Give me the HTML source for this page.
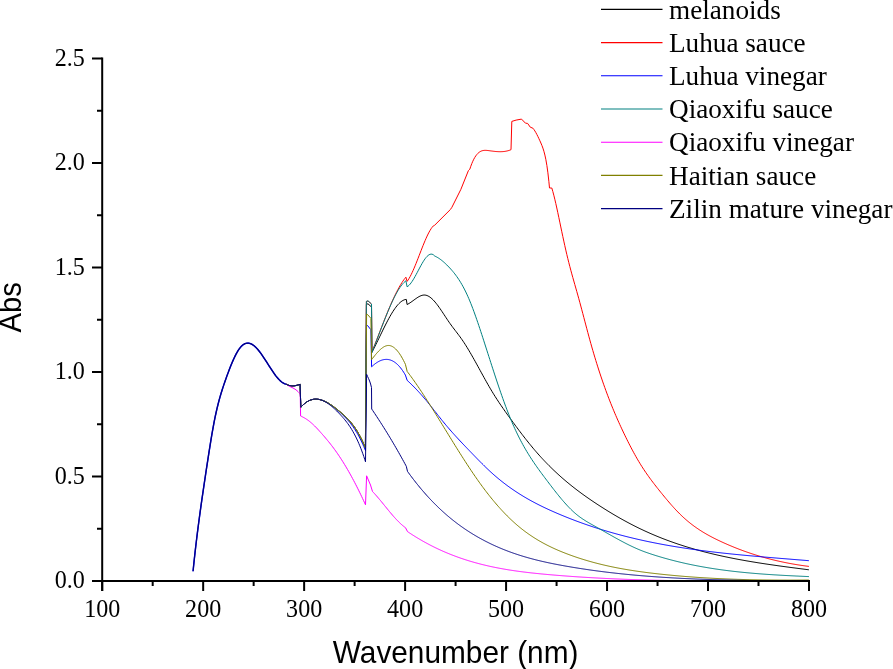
<!DOCTYPE html>
<html><head><meta charset="utf-8"><style>
html,body{margin:0;padding:0;background:#fff;overflow:hidden;}
svg{display:block;will-change:transform;}
.tk{font-family:"Liberation Serif",serif;font-size:26.2px;fill:#000;}
.lg{font-family:"Liberation Serif",serif;font-size:27.2px;fill:#000;}
.ti{font-family:"Liberation Sans",sans-serif;font-size:29.8px;fill:#000;}
</style></head><body>
<svg width="893" height="669" viewBox="0 0 893 669">
<rect width="893" height="669" fill="#fff"/>
<path d="M193.05,571.20 L194.05,561.55 L195.05,552.44 L196.05,543.79 L197.05,535.54 L198.05,527.64 L199.05,520.02 L200.05,512.64 L201.05,505.45 L202.05,498.42 L203.05,491.54 L204.05,484.77 L205.05,478.09 L206.05,471.46 L207.05,464.86 L208.05,458.32 L209.05,451.87 L210.05,445.55 L211.05,439.41 L212.05,433.49 L213.05,427.82 L214.05,422.46 L215.05,417.43 L216.05,412.75 L217.05,408.38 L218.05,404.29 L219.05,400.45 L220.05,396.85 L221.05,393.44 L222.05,390.20 L223.05,387.11 L224.05,384.13 L225.05,381.24 L226.05,378.40 L227.05,375.62 L228.05,372.89 L229.05,370.22 L230.05,367.63 L231.05,365.13 L232.05,362.71 L233.05,360.40 L234.05,358.20 L235.05,356.12 L236.05,354.16 L237.05,352.35 L238.05,350.68 L239.05,349.16 L240.05,347.81 L241.05,346.63 L242.05,345.64 L243.05,344.81 L244.05,344.16 L245.05,343.67 L246.05,343.34 L247.05,343.16 L248.05,343.13 L249.05,343.24 L250.05,343.49 L251.05,343.88 L252.05,344.39 L253.05,345.02 L254.05,345.76 L255.05,346.62 L256.05,347.58 L257.05,348.64 L258.05,349.78 L259.05,351.01 L260.05,352.31 L261.05,353.67 L262.05,355.09 L263.05,356.55 L264.05,358.05 L265.05,359.59 L266.05,361.14 L267.05,362.71 L268.05,364.28 L269.05,365.86 L270.05,367.42 L271.05,368.96 L272.05,370.47 L273.05,371.95 L274.05,373.38 L275.05,374.76 L276.05,376.08 L277.05,377.33 L278.05,378.51 L279.05,379.59 L280.05,380.59 L281.05,381.48 L282.05,382.26 L283.05,382.92 L284.05,383.46 L285.05,383.85 L286.00,384.10" fill="none" stroke="#0000FF" stroke-width="1.45" stroke-linejoin="round"/>
<path d="M193.05,571.20 L194.05,561.55 L195.05,552.44 L196.05,543.79 L197.05,535.54 L198.05,527.64 L199.05,520.02 L200.05,512.64 L201.05,505.45 L202.05,498.42 L203.05,491.54 L204.05,484.77 L205.05,478.09 L206.05,471.46 L207.05,464.86 L208.05,458.32 L209.05,451.87 L210.05,445.55 L211.05,439.41 L212.05,433.49 L213.05,427.82 L214.05,422.46 L215.05,417.43 L216.05,412.75 L217.05,408.38 L218.05,404.29 L219.05,400.45 L220.05,396.85 L221.05,393.44 L222.05,390.20 L223.05,387.11 L224.05,384.13 L225.05,381.24 L226.05,378.40 L227.05,375.62 L228.05,372.89 L229.05,370.22 L230.05,367.63 L231.05,365.13 L232.05,362.71 L233.05,360.40 L234.05,358.20 L235.05,356.12 L236.05,354.16 L237.05,352.35 L238.05,350.68 L239.05,349.16 L240.05,347.81 L241.05,346.63 L242.05,345.64 L243.05,344.81 L244.05,344.16 L245.05,343.67 L246.05,343.34 L247.05,343.16 L248.05,343.13 L249.05,343.24 L250.05,343.49 L251.05,343.88 L252.05,344.39 L253.05,345.02 L254.05,345.76 L255.05,346.62 L256.05,347.58 L257.05,348.64 L258.05,349.78 L259.05,351.01 L260.05,352.31 L261.05,353.67 L262.05,355.09 L263.05,356.55 L264.05,358.05 L265.05,359.59 L266.05,361.14 L267.05,362.71 L268.05,364.28 L269.05,365.86 L270.05,367.42 L271.05,368.96 L272.05,370.47 L273.05,371.95 L274.05,373.38 L275.05,374.76 L276.05,376.08 L277.05,377.33 L278.05,378.51 L279.05,379.59 L280.05,380.59 L281.05,381.48 L282.05,382.26 L283.05,382.92 L284.05,383.46 L285.05,383.85 L286.00,384.10" fill="none" stroke="#000080" stroke-width="1.25" stroke-linejoin="round"/>
<path d="M286.00,384.10 L287.00,384.65 L288.00,385.09 L289.00,385.42 L290.00,385.67 L291.00,385.82 L292.00,385.90 L293.00,385.90 L294.00,385.83 L295.00,385.69 L296.00,385.51 L297.00,385.27 L298.00,384.99 L299.00,384.68 L300.00,384.34 L300.10,384.30 L300.80,407.30 L301.80,406.18 L302.80,405.16 L303.80,404.22 L304.80,403.37 L305.80,402.61 L306.80,401.93 L307.80,401.33 L308.80,400.81 L309.80,400.36 L310.80,399.99 L311.80,399.69 L312.80,399.46 L313.80,399.29 L314.80,399.20 L315.80,399.16 L316.80,399.19 L317.80,399.27 L318.80,399.41 L319.80,399.61 L320.80,399.86 L321.80,400.16 L322.80,400.50 L323.80,400.90 L324.80,401.33 L325.80,401.81 L326.80,402.33 L327.80,402.88 L328.80,403.47 L329.80,404.09 L330.80,404.75 L331.80,405.43 L332.80,406.14 L333.80,406.87 L334.80,407.62 L335.80,408.40 L336.80,409.19 L337.80,409.99 L338.80,410.81 L339.80,411.65 L340.80,412.49 L341.80,413.34 L342.80,414.21 L343.80,415.10 L344.80,416.02 L345.80,416.97 L346.80,417.95 L347.80,418.98 L348.80,420.04 L349.80,421.15 L350.80,422.32 L351.80,423.54 L352.80,424.82 L353.80,426.17 L354.80,427.58 L355.80,429.07 L356.80,430.64 L357.80,432.29 L358.80,434.03 L359.80,435.86 L360.80,437.79 L361.80,439.81 L362.80,441.94 L363.80,444.18 L364.80,446.53 L365.40,448.00 L366.40,304.30 L368.00,303.80 L371.50,307.00 L371.90,352.40 L372.90,350.47 L373.90,348.50 L374.90,346.50 L375.90,344.48 L376.90,342.43 L377.90,340.38 L378.90,338.31 L379.90,336.24 L380.90,334.17 L381.90,332.11 L382.90,330.06 L383.90,328.03 L384.90,326.02 L385.90,324.05 L386.90,322.11 L387.90,320.21 L388.90,318.36 L389.90,316.56 L390.90,314.82 L391.90,313.14 L392.90,311.54 L393.90,310.00 L394.90,308.55 L395.90,307.18 L396.90,305.90 L397.90,304.72 L398.90,303.65 L399.90,302.68 L400.90,301.82 L401.90,301.08 L402.90,300.47 L403.90,299.99 L404.90,299.64 L405.90,299.44 L406.30,299.40 L407.10,304.50 L408.10,303.99 L409.10,303.41 L410.10,302.78 L411.10,302.10 L412.10,301.39 L413.10,300.66 L414.10,299.92 L415.10,299.19 L416.10,298.48 L417.10,297.80 L418.10,297.17 L419.10,296.59 L420.10,296.09 L421.10,295.67 L422.10,295.34 L423.10,295.12 L424.10,295.03 L425.10,295.07 L426.10,295.25 L427.10,295.56 L428.10,296.00 L429.10,296.56 L430.10,297.23 L431.10,298.02 L432.10,298.90 L433.10,299.87 L434.10,300.94 L435.10,302.08 L436.10,303.29 L437.10,304.57 L438.10,305.91 L439.10,307.30 L440.10,308.72 L441.10,310.19 L442.10,311.68 L443.10,313.18 L444.10,314.70 L445.10,316.23 L446.10,317.75 L447.10,319.25 L448.10,320.74 L449.10,322.21 L450.10,323.63 L451.10,325.02 L452.10,326.38 L453.10,327.72 L454.10,329.03 L455.10,330.34 L456.10,331.64 L457.10,332.95 L458.10,334.26 L459.10,335.59 L460.10,336.95 L461.10,338.34 L462.10,339.76 L463.10,341.23 L464.10,342.74 L465.10,344.28 L466.10,345.86 L467.10,347.48 L468.10,349.12 L469.10,350.79 L470.10,352.49 L471.10,354.21 L472.10,355.95 L473.10,357.71 L474.10,359.49 L475.10,361.28 L476.10,363.08 L477.10,364.89 L478.10,366.71 L479.10,368.53 L480.10,370.36 L481.10,372.19 L482.10,374.01 L483.10,375.83 L484.10,377.64 L485.10,379.44 L486.10,381.23 L487.10,383.00 L488.10,384.76 L489.10,386.50 L490.10,388.21 L491.10,389.91 L492.10,391.58 L493.10,393.22 L494.10,394.83 L495.10,396.43 L496.10,398.00 L497.10,399.54 L498.10,401.07 L499.10,402.58 L500.10,404.07 L501.10,405.55 L502.10,407.01 L503.10,408.45 L504.10,409.88 L505.10,411.31 L506.10,412.72 L507.10,414.12 L508.10,415.51 L509.10,416.90 L510.10,418.28 L511.10,419.65 L512.10,421.03 L513.10,422.39 L514.10,423.76 L515.10,425.11 L516.10,426.46 L517.10,427.81 L518.10,429.15 L519.10,430.48 L520.10,431.80 L521.10,433.12 L522.10,434.43 L523.10,435.73 L524.10,437.02 L525.10,438.30 L526.10,439.57 L527.10,440.84 L528.10,442.09 L529.10,443.33 L530.10,444.56 L531.10,445.78 L532.10,446.99 L533.10,448.19 L534.10,449.37 L535.10,450.55 L536.10,451.71 L537.10,452.85 L538.10,453.99 L539.10,455.11 L540.10,456.22 L541.10,457.32 L542.10,458.40 L543.10,459.48 L544.10,460.54 L545.10,461.59 L546.10,462.63 L547.10,463.66 L548.10,464.68 L549.10,465.69 L550.10,466.68 L551.10,467.67 L552.10,468.64 L553.10,469.61 L554.10,470.57 L555.10,471.51 L556.10,472.45 L557.10,473.37 L558.10,474.29 L559.10,475.20 L560.10,476.10 L561.10,476.99 L562.10,477.87 L563.10,478.74 L564.10,479.60 L565.10,480.45 L566.10,481.30 L567.10,482.14 L568.10,482.97 L569.10,483.79 L570.10,484.60 L571.10,485.41 L572.10,486.21 L573.10,487.00 L574.10,487.78 L575.10,488.56 L576.10,489.33 L577.10,490.10 L578.10,490.85 L579.10,491.60 L580.10,492.35 L581.10,493.08 L582.10,493.82 L583.10,494.54 L584.10,495.26 L585.10,495.98 L586.10,496.69 L587.10,497.39 L588.10,498.09 L589.10,498.78 L590.10,499.47 L591.10,500.15 L592.10,500.83 L593.10,501.51 L594.10,502.18 L595.10,502.84 L596.10,503.51 L597.10,504.16 L598.10,504.82 L599.10,505.47 L600.10,506.12 L601.10,506.76 L602.10,507.40 L603.10,508.03 L604.10,508.67 L605.10,509.29 L606.10,509.92 L607.10,510.54 L608.10,511.15 L609.10,511.77 L610.10,512.37 L611.10,512.98 L612.10,513.58 L613.10,514.17 L614.10,514.77 L615.10,515.35 L616.10,515.94 L617.10,516.52 L618.10,517.10 L619.10,517.67 L620.10,518.24 L621.10,518.80 L622.10,519.36 L623.10,519.92 L624.10,520.47 L625.10,521.01 L626.10,521.56 L627.10,522.10 L628.10,522.63 L629.10,523.16 L630.10,523.69 L631.10,524.21 L632.10,524.73 L633.10,525.24 L634.10,525.75 L635.10,526.26 L636.10,526.76 L637.10,527.26 L638.10,527.75 L639.10,528.24 L640.10,528.72 L641.10,529.20 L642.10,529.67 L643.10,530.14 L644.10,530.61 L645.10,531.07 L646.10,531.53 L647.10,531.98 L648.10,532.43 L649.10,532.88 L650.10,533.32 L651.10,533.75 L652.10,534.19 L653.10,534.62 L654.10,535.04 L655.10,535.46 L656.10,535.88 L657.10,536.29 L658.10,536.70 L659.10,537.11 L660.10,537.51 L661.10,537.90 L662.10,538.30 L663.10,538.69 L664.10,539.07 L665.10,539.46 L666.10,539.84 L667.10,540.21 L668.10,540.58 L669.10,540.95 L670.10,541.32 L671.10,541.68 L672.10,542.03 L673.10,542.39 L674.10,542.74 L675.10,543.09 L676.10,543.43 L677.10,543.77 L678.10,544.11 L679.10,544.44 L680.10,544.77 L681.10,545.10 L682.10,545.42 L683.10,545.74 L684.10,546.06 L685.10,546.38 L686.10,546.69 L687.10,547.00 L688.10,547.30 L689.10,547.60 L690.10,547.90 L691.10,548.20 L692.10,548.49 L693.10,548.78 L694.10,549.07 L695.10,549.36 L696.10,549.64 L697.10,549.92 L698.10,550.19 L699.10,550.47 L700.10,550.74 L701.10,551.01 L702.10,551.27 L703.10,551.54 L704.10,551.80 L705.10,552.05 L706.10,552.31 L707.10,552.56 L708.10,552.81 L709.10,553.06 L710.10,553.31 L711.10,553.55 L712.10,553.79 L713.10,554.03 L714.10,554.27 L715.10,554.50 L716.10,554.73 L717.10,554.96 L718.10,555.19 L719.10,555.41 L720.10,555.64 L721.10,555.86 L722.10,556.08 L723.10,556.29 L724.10,556.51 L725.10,556.72 L726.10,556.93 L727.10,557.14 L728.10,557.35 L729.10,557.55 L730.10,557.76 L731.10,557.96 L732.10,558.16 L733.10,558.35 L734.10,558.55 L735.10,558.74 L736.10,558.94 L737.10,559.13 L738.10,559.32 L739.10,559.50 L740.10,559.69 L741.10,559.87 L742.10,560.05 L743.10,560.23 L744.10,560.41 L745.10,560.59 L746.10,560.77 L747.10,560.94 L748.10,561.11 L749.10,561.29 L750.10,561.46 L751.10,561.63 L752.10,561.79 L753.10,561.96 L754.10,562.12 L755.10,562.29 L756.10,562.45 L757.10,562.61 L758.10,562.77 L759.10,562.93 L760.10,563.09 L761.10,563.24 L762.10,563.40 L763.10,563.55 L764.10,563.70 L765.10,563.85 L766.10,564.01 L767.10,564.15 L768.10,564.30 L769.10,564.45 L770.10,564.60 L771.10,564.74 L772.10,564.89 L773.10,565.03 L774.10,565.18 L775.10,565.32 L776.10,565.46 L777.10,565.60 L778.10,565.74 L779.10,565.88 L780.10,566.02 L781.10,566.16 L782.10,566.29 L783.10,566.43 L784.10,566.56 L785.10,566.70 L786.10,566.83 L787.10,566.97 L788.10,567.10 L789.10,567.24 L790.10,567.37 L791.10,567.50 L792.10,567.63 L793.10,567.76 L794.10,567.89 L795.10,568.02 L796.10,568.15 L797.10,568.28 L798.10,568.41 L799.10,568.54 L800.10,568.67 L801.10,568.80 L802.10,568.93 L803.10,569.06 L804.10,569.19 L805.10,569.31 L806.10,569.44 L807.10,569.57 L808.10,569.70 L808.90,569.80" fill="none" stroke="#000000" stroke-width="1.0" stroke-linejoin="round"/>
<path d="M286.00,384.10 L287.00,384.65 L288.00,385.09 L289.00,385.42 L290.00,385.67 L291.00,385.82 L292.00,385.90 L293.00,385.90 L294.00,385.83 L295.00,385.69 L296.00,385.51 L297.00,385.27 L298.00,384.99 L299.00,384.68 L300.00,384.34 L300.10,384.30 L300.80,407.30 L301.80,406.18 L302.80,405.16 L303.80,404.22 L304.80,403.37 L305.80,402.61 L306.80,401.93 L307.80,401.33 L308.80,400.81 L309.80,400.36 L310.80,399.99 L311.80,399.69 L312.80,399.46 L313.80,399.29 L314.80,399.20 L315.80,399.16 L316.80,399.19 L317.80,399.27 L318.80,399.41 L319.80,399.61 L320.80,399.86 L321.80,400.16 L322.80,400.50 L323.80,400.90 L324.80,401.33 L325.80,401.81 L326.80,402.33 L327.80,402.88 L328.80,403.47 L329.80,404.09 L330.80,404.75 L331.80,405.43 L332.80,406.14 L333.80,406.87 L334.80,407.62 L335.80,408.40 L336.80,409.19 L337.80,409.99 L338.80,410.81 L339.80,411.65 L340.80,412.49 L341.80,413.34 L342.80,414.21 L343.80,415.10 L344.80,416.02 L345.80,416.97 L346.80,417.95 L347.80,418.98 L348.80,420.04 L349.80,421.15 L350.80,422.32 L351.80,423.54 L352.80,424.82 L353.80,426.17 L354.80,427.58 L355.80,429.07 L356.80,430.64 L357.80,432.29 L358.80,434.03 L359.80,435.86 L360.80,437.79 L361.80,439.81 L362.80,441.94 L363.80,444.18 L364.80,446.53 L365.40,448.00 L366.40,301.50 L368.00,301.00 L371.50,304.00 L371.90,352.00 L372.90,349.49 L373.90,346.95 L374.90,344.40 L375.90,341.84 L376.90,339.26 L377.90,336.68 L378.90,334.09 L379.90,331.50 L380.90,328.92 L381.90,326.35 L382.90,323.80 L383.90,321.25 L384.90,318.73 L385.90,316.23 L386.90,313.76 L387.90,311.32 L388.90,308.92 L389.90,306.56 L390.90,304.24 L391.90,301.96 L392.90,299.74 L393.90,297.57 L394.90,295.46 L395.90,293.41 L396.90,291.43 L397.90,289.52 L398.90,287.68 L399.90,285.92 L400.90,284.24 L401.90,282.65 L402.90,281.14 L403.90,279.73 L404.90,278.41 L405.90,277.20 L407.10,281.40 L408.10,279.99 L409.10,278.40 L410.10,276.63 L411.10,274.70 L412.10,272.64 L413.10,270.45 L414.10,268.16 L415.10,265.78 L416.10,263.32 L417.10,260.81 L418.10,258.25 L419.10,255.67 L420.10,253.08 L421.10,250.50 L422.10,247.94 L423.10,245.42 L424.10,242.97 L425.10,240.58 L426.10,238.28 L427.10,236.09 L428.10,234.03 L429.10,232.10 L430.10,230.33 L431.10,228.73 L432.10,227.32 L433.10,226.11 L433.20,226.00 L434.70,225.20 L450.40,209.50 L451.90,207.30 L460.90,189.30 L468.40,170.60 L469.80,169.20 L470.80,166.24 L471.80,163.60 L472.80,161.26 L473.80,159.20 L474.80,157.40 L475.80,155.86 L476.80,154.55 L477.80,153.45 L478.80,152.55 L479.80,151.83 L480.80,151.27 L481.80,150.86 L482.80,150.58 L483.80,150.41 L484.80,150.33 L485.80,150.33 L486.80,150.40 L487.80,150.50 L488.80,150.63 L489.80,150.77 L490.80,150.91 L491.80,151.04 L492.80,151.17 L493.80,151.29 L494.80,151.40 L495.80,151.50 L496.80,151.58 L497.80,151.64 L498.80,151.69 L499.80,151.71 L500.80,151.71 L501.80,151.67 L502.80,151.61 L503.80,151.52 L504.80,151.40 L505.80,151.23 L506.80,151.03 L507.80,150.79 L508.80,150.50 L509.80,150.16 L510.80,149.78 L511.00,149.70 L511.80,121.40 L516.10,120.10 L521.50,119.10 L525.50,123.20 L527.60,123.40 L530.30,127.20 L532.90,128.20 L533.90,129.47 L534.90,130.97 L535.90,132.66 L536.90,134.52 L537.90,136.51 L538.90,138.62 L539.90,140.79 L540.90,143.03 L541.90,145.41 L542.90,148.09 L543.90,151.26 L544.90,155.07 L545.90,159.76 L546.90,165.58 L547.90,172.82 L548.90,181.73 L549.50,188.00 L551.80,188.00 L552.80,191.43 L553.80,195.19 L554.80,199.24 L555.80,203.52 L556.80,208.01 L557.80,212.64 L558.80,217.38 L559.80,222.17 L560.80,226.98 L561.80,231.76 L562.80,236.48 L563.80,241.12 L564.80,245.67 L565.80,250.11 L566.80,254.41 L567.80,258.57 L568.80,262.57 L569.80,266.45 L570.80,270.21 L571.80,273.88 L572.80,277.48 L573.80,281.03 L574.80,284.54 L575.80,288.05 L576.80,291.56 L577.80,295.10 L578.80,298.69 L579.80,302.35 L580.80,306.05 L581.80,309.80 L582.80,313.57 L583.80,317.36 L584.80,321.16 L585.80,324.95 L586.80,328.73 L587.80,332.48 L588.80,336.18 L589.80,339.84 L590.80,343.43 L591.80,346.96 L592.80,350.43 L593.80,353.84 L594.80,357.19 L595.80,360.48 L596.80,363.71 L597.80,366.88 L598.80,370.00 L599.80,373.07 L600.80,376.08 L601.80,379.03 L602.80,381.94 L603.80,384.80 L604.80,387.60 L605.80,390.36 L606.80,393.07 L607.80,395.74 L608.80,398.36 L609.80,400.93 L610.80,403.46 L611.80,405.95 L612.80,408.40 L613.80,410.81 L614.80,413.19 L615.80,415.53 L616.80,417.83 L617.80,420.10 L618.80,422.34 L619.80,424.54 L620.80,426.72 L621.80,428.87 L622.80,431.00 L623.80,433.10 L624.80,435.17 L625.80,437.23 L626.80,439.26 L627.80,441.27 L628.80,443.25 L629.80,445.21 L630.80,447.14 L631.80,449.05 L632.80,450.92 L633.80,452.77 L634.80,454.59 L635.80,456.38 L636.80,458.13 L637.80,459.86 L638.80,461.55 L639.80,463.20 L640.80,464.83 L641.80,466.42 L642.80,467.98 L643.80,469.51 L644.80,471.01 L645.80,472.48 L646.80,473.93 L647.80,475.35 L648.80,476.76 L649.80,478.14 L650.80,479.50 L651.80,480.84 L652.80,482.17 L653.80,483.48 L654.80,484.77 L655.80,486.06 L656.80,487.33 L657.80,488.59 L658.80,489.84 L659.80,491.09 L660.80,492.33 L661.80,493.57 L662.80,494.79 L663.80,496.02 L664.80,497.23 L665.80,498.43 L666.80,499.63 L667.80,500.81 L668.80,501.99 L669.80,503.15 L670.80,504.30 L671.80,505.43 L672.80,506.55 L673.80,507.66 L674.80,508.75 L675.80,509.83 L676.80,510.88 L677.80,511.92 L678.80,512.94 L679.80,513.94 L680.80,514.92 L681.80,515.88 L682.80,516.82 L683.80,517.74 L684.80,518.64 L685.80,519.52 L686.80,520.38 L687.80,521.22 L688.80,522.05 L689.80,522.86 L690.80,523.65 L691.80,524.43 L692.80,525.19 L693.80,525.93 L694.80,526.66 L695.80,527.37 L696.80,528.07 L697.80,528.75 L698.80,529.42 L699.80,530.08 L700.80,530.72 L701.80,531.35 L702.80,531.97 L703.80,532.58 L704.80,533.17 L705.80,533.76 L706.80,534.33 L707.80,534.89 L708.80,535.45 L709.80,535.99 L710.80,536.53 L711.80,537.05 L712.80,537.57 L713.80,538.08 L714.80,538.59 L715.80,539.08 L716.80,539.57 L717.80,540.06 L718.80,540.53 L719.80,541.01 L720.80,541.47 L721.80,541.94 L722.80,542.40 L723.80,542.85 L724.80,543.30 L725.80,543.74 L726.80,544.18 L727.80,544.62 L728.80,545.05 L729.80,545.47 L730.80,545.89 L731.80,546.31 L732.80,546.72 L733.80,547.13 L734.80,547.54 L735.80,547.93 L736.80,548.33 L737.80,548.72 L738.80,549.11 L739.80,549.49 L740.80,549.87 L741.80,550.24 L742.80,550.61 L743.80,550.97 L744.80,551.33 L745.80,551.69 L746.80,552.04 L747.80,552.39 L748.80,552.73 L749.80,553.07 L750.80,553.41 L751.80,553.74 L752.80,554.06 L753.80,554.39 L754.80,554.71 L755.80,555.02 L756.80,555.33 L757.80,555.64 L758.80,555.94 L759.80,556.24 L760.80,556.53 L761.80,556.82 L762.80,557.11 L763.80,557.39 L764.80,557.67 L765.80,557.95 L766.80,558.22 L767.80,558.49 L768.80,558.75 L769.80,559.01 L770.80,559.27 L771.80,559.52 L772.80,559.77 L773.80,560.01 L774.80,560.25 L775.80,560.49 L776.80,560.73 L777.80,560.96 L778.80,561.18 L779.80,561.41 L780.80,561.63 L781.80,561.84 L782.80,562.05 L783.80,562.26 L784.80,562.47 L785.80,562.67 L786.80,562.87 L787.80,563.06 L788.80,563.25 L789.80,563.44 L790.80,563.63 L791.80,563.81 L792.80,563.99 L793.80,564.16 L794.80,564.33 L795.80,564.50 L796.80,564.66 L797.80,564.83 L798.80,564.98 L799.80,565.14 L800.80,565.29 L801.80,565.44 L802.80,565.58 L803.80,565.72 L804.80,565.86 L805.80,566.00 L806.80,566.13 L807.80,566.26 L808.80,566.39 L808.90,566.40" fill="none" stroke="#FF0000" stroke-width="1.0" stroke-linejoin="round"/>
<path d="M286.00,384.10 L287.00,384.65 L288.00,385.09 L289.00,385.42 L290.00,385.67 L291.00,385.82 L292.00,385.90 L293.00,385.90 L294.00,385.83 L295.00,385.69 L296.00,385.51 L297.00,385.27 L298.00,384.99 L299.00,384.68 L300.00,384.34 L300.10,384.30 L300.80,407.30 L301.80,406.19 L302.80,405.17 L303.80,404.24 L304.80,403.40 L305.80,402.63 L306.80,401.95 L307.80,401.35 L308.80,400.82 L309.80,400.37 L310.80,400.00 L311.80,399.69 L312.80,399.46 L313.80,399.29 L314.80,399.19 L315.80,399.15 L316.80,399.17 L317.80,399.25 L318.80,399.39 L319.80,399.59 L320.80,399.84 L321.80,400.14 L322.80,400.49 L323.80,400.89 L324.80,401.33 L325.80,401.82 L326.80,402.35 L327.80,402.92 L328.80,403.53 L329.80,404.17 L330.80,404.85 L331.80,405.56 L332.80,406.31 L333.80,407.08 L334.80,407.87 L335.80,408.69 L336.80,409.53 L337.80,410.40 L338.80,411.28 L339.80,412.18 L340.80,413.09 L341.80,414.02 L342.80,414.97 L343.80,415.95 L344.80,416.96 L345.80,418.00 L346.80,419.07 L347.80,420.19 L348.80,421.35 L349.80,422.56 L350.80,423.82 L351.80,425.13 L352.80,426.51 L353.80,427.94 L354.80,429.45 L355.80,431.02 L356.80,432.67 L357.80,434.39 L358.80,436.20 L359.80,438.09 L360.80,440.08 L361.80,442.15 L362.80,444.32 L363.80,446.60 L364.80,448.97 L365.50,450.70 L366.50,325.00 L367.50,325.50 L370.90,329.70 L371.60,366.80 L372.60,365.88 L373.60,365.01 L374.60,364.20 L375.60,363.44 L376.60,362.75 L377.60,362.11 L378.60,361.54 L379.60,361.03 L380.60,360.59 L381.60,360.21 L382.60,359.90 L383.60,359.67 L384.60,359.50 L385.60,359.41 L386.60,359.39 L387.60,359.45 L388.60,359.59 L389.60,359.81 L390.60,360.10 L391.60,360.49 L392.60,360.95 L393.60,361.51 L394.60,362.15 L395.60,362.88 L396.60,363.70 L397.60,364.61 L398.60,365.62 L399.60,366.73 L400.60,367.93 L401.60,369.23 L402.60,370.63 L403.60,372.13 L404.60,373.74 L405.40,375.10 L407.20,380.40 L408.20,381.32 L409.20,382.25 L410.20,383.20 L411.20,384.17 L412.20,385.14 L413.20,386.13 L414.20,387.14 L415.20,388.16 L416.20,389.20 L417.20,390.25 L418.20,391.32 L419.20,392.40 L420.20,393.50 L421.20,394.61 L422.20,395.74 L423.20,396.88 L424.20,398.05 L425.20,399.22 L426.20,400.42 L427.20,401.63 L428.20,402.85 L429.20,404.09 L430.20,405.34 L431.20,406.59 L432.20,407.86 L433.20,409.13 L434.20,410.40 L435.20,411.68 L436.20,412.95 L437.20,414.23 L438.20,415.50 L439.20,416.77 L440.20,418.03 L441.20,419.28 L442.20,420.52 L443.20,421.75 L444.20,422.97 L445.20,424.18 L446.20,425.37 L447.20,426.55 L448.20,427.72 L449.20,428.88 L450.20,430.02 L451.20,431.16 L452.20,432.29 L453.20,433.41 L454.20,434.52 L455.20,435.62 L456.20,436.72 L457.20,437.81 L458.20,438.89 L459.20,439.96 L460.20,441.03 L461.20,442.09 L462.20,443.15 L463.20,444.21 L464.20,445.26 L465.20,446.30 L466.20,447.35 L467.20,448.39 L468.20,449.43 L469.20,450.46 L470.20,451.50 L471.20,452.53 L472.20,453.57 L473.20,454.60 L474.20,455.64 L475.20,456.67 L476.20,457.70 L477.20,458.72 L478.20,459.75 L479.20,460.76 L480.20,461.78 L481.20,462.78 L482.20,463.79 L483.20,464.78 L484.20,465.77 L485.20,466.74 L486.20,467.71 L487.20,468.67 L488.20,469.62 L489.20,470.56 L490.20,471.49 L491.20,472.40 L492.20,473.30 L493.20,474.20 L494.20,475.08 L495.20,475.95 L496.20,476.80 L497.20,477.65 L498.20,478.49 L499.20,479.31 L500.20,480.12 L501.20,480.93 L502.20,481.72 L503.20,482.51 L504.20,483.28 L505.20,484.04 L506.20,484.79 L507.20,485.54 L508.20,486.27 L509.20,487.00 L510.20,487.71 L511.20,488.42 L512.20,489.12 L513.20,489.80 L514.20,490.48 L515.20,491.15 L516.20,491.82 L517.20,492.47 L518.20,493.12 L519.20,493.75 L520.20,494.38 L521.20,495.01 L522.20,495.62 L523.20,496.23 L524.20,496.83 L525.20,497.42 L526.20,498.00 L527.20,498.58 L528.20,499.15 L529.20,499.72 L530.20,500.27 L531.20,500.83 L532.20,501.37 L533.20,501.91 L534.20,502.44 L535.20,502.97 L536.20,503.49 L537.20,504.01 L538.20,504.52 L539.20,505.02 L540.20,505.52 L541.20,506.01 L542.20,506.50 L543.20,506.99 L544.20,507.47 L545.20,507.94 L546.20,508.41 L547.20,508.88 L548.20,509.34 L549.20,509.80 L550.20,510.25 L551.20,510.70 L552.20,511.15 L553.20,511.59 L554.20,512.03 L555.20,512.47 L556.20,512.90 L557.20,513.33 L558.20,513.76 L559.20,514.18 L560.20,514.60 L561.20,515.02 L562.20,515.44 L563.20,515.85 L564.20,516.26 L565.20,516.67 L566.20,517.07 L567.20,517.47 L568.20,517.87 L569.20,518.26 L570.20,518.66 L571.20,519.05 L572.20,519.43 L573.20,519.82 L574.20,520.20 L575.20,520.58 L576.20,520.95 L577.20,521.33 L578.20,521.70 L579.20,522.06 L580.20,522.43 L581.20,522.79 L582.20,523.15 L583.20,523.51 L584.20,523.86 L585.20,524.21 L586.20,524.56 L587.20,524.91 L588.20,525.25 L589.20,525.59 L590.20,525.93 L591.20,526.26 L592.20,526.60 L593.20,526.93 L594.20,527.26 L595.20,527.58 L596.20,527.91 L597.20,528.23 L598.20,528.54 L599.20,528.86 L600.20,529.17 L601.20,529.48 L602.20,529.79 L603.20,530.10 L604.20,530.40 L605.20,530.70 L606.20,531.00 L607.20,531.30 L608.20,531.59 L609.20,531.89 L610.20,532.17 L611.20,532.46 L612.20,532.75 L613.20,533.03 L614.20,533.31 L615.20,533.59 L616.20,533.86 L617.20,534.14 L618.20,534.41 L619.20,534.68 L620.20,534.94 L621.20,535.21 L622.20,535.47 L623.20,535.73 L624.20,535.99 L625.20,536.25 L626.20,536.50 L627.20,536.75 L628.20,537.00 L629.20,537.25 L630.20,537.50 L631.20,537.74 L632.20,537.98 L633.20,538.22 L634.20,538.46 L635.20,538.69 L636.20,538.93 L637.20,539.16 L638.20,539.39 L639.20,539.62 L640.20,539.84 L641.20,540.07 L642.20,540.29 L643.20,540.51 L644.20,540.73 L645.20,540.94 L646.20,541.16 L647.20,541.37 L648.20,541.58 L649.20,541.79 L650.20,542.00 L651.20,542.20 L652.20,542.41 L653.20,542.61 L654.20,542.81 L655.20,543.01 L656.20,543.20 L657.20,543.40 L658.20,543.59 L659.20,543.78 L660.20,543.97 L661.20,544.16 L662.20,544.35 L663.20,544.53 L664.20,544.72 L665.20,544.90 L666.20,545.08 L667.20,545.26 L668.20,545.43 L669.20,545.61 L670.20,545.78 L671.20,545.95 L672.20,546.12 L673.20,546.29 L674.20,546.46 L675.20,546.63 L676.20,546.79 L677.20,546.95 L678.20,547.12 L679.20,547.28 L680.20,547.44 L681.20,547.59 L682.20,547.75 L683.20,547.90 L684.20,548.06 L685.20,548.21 L686.20,548.36 L687.20,548.51 L688.20,548.66 L689.20,548.80 L690.20,548.95 L691.20,549.09 L692.20,549.24 L693.20,549.38 L694.20,549.52 L695.20,549.66 L696.20,549.80 L697.20,549.93 L698.20,550.07 L699.20,550.20 L700.20,550.33 L701.20,550.47 L702.20,550.60 L703.20,550.73 L704.20,550.86 L705.20,550.98 L706.20,551.11 L707.20,551.24 L708.20,551.36 L709.20,551.48 L710.20,551.61 L711.20,551.73 L712.20,551.85 L713.20,551.97 L714.20,552.08 L715.20,552.20 L716.20,552.32 L717.20,552.43 L718.20,552.55 L719.20,552.66 L720.20,552.77 L721.20,552.89 L722.20,553.00 L723.20,553.11 L724.20,553.22 L725.20,553.32 L726.20,553.43 L727.20,553.54 L728.20,553.64 L729.20,553.75 L730.20,553.85 L731.20,553.96 L732.20,554.06 L733.20,554.16 L734.20,554.26 L735.20,554.36 L736.20,554.46 L737.20,554.56 L738.20,554.66 L739.20,554.76 L740.20,554.85 L741.20,554.95 L742.20,555.05 L743.20,555.14 L744.20,555.24 L745.20,555.33 L746.20,555.42 L747.20,555.52 L748.20,555.61 L749.20,555.70 L750.20,555.79 L751.20,555.88 L752.20,555.97 L753.20,556.06 L754.20,556.15 L755.20,556.24 L756.20,556.33 L757.20,556.42 L758.20,556.51 L759.20,556.59 L760.20,556.68 L761.20,556.77 L762.20,556.85 L763.20,556.94 L764.20,557.03 L765.20,557.11 L766.20,557.20 L767.20,557.28 L768.20,557.36 L769.20,557.45 L770.20,557.53 L771.20,557.61 L772.20,557.70 L773.20,557.78 L774.20,557.86 L775.20,557.95 L776.20,558.03 L777.20,558.11 L778.20,558.19 L779.20,558.27 L780.20,558.36 L781.20,558.44 L782.20,558.52 L783.20,558.60 L784.20,558.68 L785.20,558.76 L786.20,558.84 L787.20,558.93 L788.20,559.01 L789.20,559.09 L790.20,559.17 L791.20,559.25 L792.20,559.33 L793.20,559.41 L794.20,559.49 L795.20,559.57 L796.20,559.66 L797.20,559.74 L798.20,559.82 L799.20,559.90 L800.20,559.98 L801.20,560.06 L802.20,560.15 L803.20,560.23 L804.20,560.31 L805.20,560.39 L806.20,560.48 L807.20,560.56 L808.20,560.64 L808.90,560.70" fill="none" stroke="#0000FF" stroke-width="1.0" stroke-linejoin="round"/>
<path d="M286.00,384.10 L287.00,384.65 L288.00,385.09 L289.00,385.42 L290.00,385.67 L291.00,385.82 L292.00,385.90 L293.00,385.90 L294.00,385.83 L295.00,385.69 L296.00,385.51 L297.00,385.27 L298.00,384.99 L299.00,384.68 L300.00,384.34 L300.10,384.30 L300.80,407.30 L301.80,406.18 L302.80,405.16 L303.80,404.22 L304.80,403.37 L305.80,402.61 L306.80,401.93 L307.80,401.33 L308.80,400.81 L309.80,400.36 L310.80,399.99 L311.80,399.69 L312.80,399.46 L313.80,399.29 L314.80,399.20 L315.80,399.16 L316.80,399.19 L317.80,399.27 L318.80,399.41 L319.80,399.61 L320.80,399.86 L321.80,400.16 L322.80,400.50 L323.80,400.90 L324.80,401.33 L325.80,401.81 L326.80,402.33 L327.80,402.88 L328.80,403.47 L329.80,404.09 L330.80,404.75 L331.80,405.43 L332.80,406.14 L333.80,406.87 L334.80,407.62 L335.80,408.40 L336.80,409.19 L337.80,409.99 L338.80,410.81 L339.80,411.65 L340.80,412.49 L341.80,413.34 L342.80,414.21 L343.80,415.10 L344.80,416.02 L345.80,416.97 L346.80,417.95 L347.80,418.98 L348.80,420.04 L349.80,421.15 L350.80,422.32 L351.80,423.54 L352.80,424.82 L353.80,426.17 L354.80,427.58 L355.80,429.07 L356.80,430.64 L357.80,432.29 L358.80,434.03 L359.80,435.86 L360.80,437.79 L361.80,439.81 L362.80,441.94 L363.80,444.18 L364.80,446.53 L365.40,448.00 L366.40,301.30 L368.00,300.80 L371.50,304.00 L371.90,352.50 L372.90,349.98 L373.90,347.44 L374.90,344.87 L375.90,342.28 L376.90,339.68 L377.90,337.07 L378.90,334.45 L379.90,331.83 L380.90,329.23 L381.90,326.63 L382.90,324.05 L383.90,321.49 L384.90,318.95 L385.90,316.45 L386.90,313.99 L387.90,311.56 L388.90,309.18 L389.90,306.86 L390.90,304.59 L391.90,302.38 L392.90,300.24 L393.90,298.17 L394.90,296.18 L395.90,294.27 L396.90,292.45 L397.90,290.72 L398.90,289.08 L399.90,287.55 L400.90,286.13 L401.90,284.82 L402.90,283.63 L403.90,282.55 L404.90,281.61 L405.90,280.80 L407.10,286.80 L408.10,286.12 L409.10,285.23 L410.10,284.13 L411.10,282.86 L412.10,281.43 L413.10,279.86 L414.10,278.19 L415.10,276.43 L416.10,274.60 L417.10,272.72 L418.10,270.83 L419.10,268.93 L420.10,267.05 L421.10,265.22 L422.10,263.45 L423.10,261.77 L424.10,260.19 L425.10,258.75 L426.10,257.47 L427.10,256.36 L428.10,255.44 L429.10,254.75 L430.10,254.30 L431.10,254.11 L432.10,254.21 L433.10,254.61 L433.40,254.80 L434.80,256.10 L435.80,256.55 L436.80,257.06 L437.80,257.63 L438.80,258.26 L439.80,258.94 L440.80,259.67 L441.80,260.44 L442.80,261.27 L443.80,262.13 L444.80,263.03 L445.80,263.97 L446.80,264.94 L447.80,265.94 L448.80,266.97 L449.80,268.02 L450.80,269.12 L451.80,270.24 L452.80,271.42 L453.80,272.63 L454.80,273.89 L455.80,275.21 L456.80,276.58 L457.80,278.01 L458.80,279.50 L459.80,281.06 L460.80,282.69 L461.80,284.38 L462.80,286.16 L463.80,288.02 L464.80,289.96 L465.80,291.98 L466.80,294.09 L467.80,296.28 L468.80,298.57 L469.80,300.95 L470.80,303.41 L471.80,305.95 L472.80,308.57 L473.80,311.26 L474.80,314.01 L475.80,316.82 L476.80,319.69 L477.80,322.60 L478.80,325.55 L479.80,328.55 L480.80,331.57 L481.80,334.62 L482.80,337.70 L483.80,340.80 L484.80,343.91 L485.80,347.03 L486.80,350.15 L487.80,353.27 L488.80,356.39 L489.80,359.51 L490.80,362.62 L491.80,365.72 L492.80,368.81 L493.80,371.88 L494.80,374.94 L495.80,377.98 L496.80,380.99 L497.80,383.98 L498.80,386.95 L499.80,389.88 L500.80,392.78 L501.80,395.64 L502.80,398.47 L503.80,401.26 L504.80,404.00 L505.80,406.70 L506.80,409.36 L507.80,411.96 L508.80,414.51 L509.80,417.00 L510.80,419.43 L511.80,421.81 L512.80,424.13 L513.80,426.39 L514.80,428.60 L515.80,430.76 L516.80,432.87 L517.80,434.93 L518.80,436.94 L519.80,438.90 L520.80,440.83 L521.80,442.70 L522.80,444.54 L523.80,446.34 L524.80,448.10 L525.80,449.82 L526.80,451.51 L527.80,453.16 L528.80,454.78 L529.80,456.38 L530.80,457.94 L531.80,459.48 L532.80,460.99 L533.80,462.48 L534.80,463.94 L535.80,465.39 L536.80,466.81 L537.80,468.22 L538.80,469.61 L539.80,470.99 L540.80,472.36 L541.80,473.71 L542.80,475.06 L543.80,476.39 L544.80,477.72 L545.80,479.05 L546.80,480.37 L547.80,481.69 L548.80,483.01 L549.80,484.32 L550.80,485.63 L551.80,486.93 L552.80,488.23 L553.80,489.52 L554.80,490.80 L555.80,492.07 L556.80,493.33 L557.80,494.58 L558.80,495.82 L559.80,497.04 L560.80,498.24 L561.80,499.43 L562.80,500.61 L563.80,501.76 L564.80,502.90 L565.80,504.02 L566.80,505.11 L567.80,506.18 L568.80,507.23 L569.80,508.26 L570.80,509.26 L571.80,510.23 L572.80,511.18 L573.80,512.10 L574.80,512.98 L575.80,513.84 L576.80,514.67 L577.80,515.47 L578.80,516.24 L579.80,516.98 L580.80,517.70 L581.80,518.40 L582.80,519.08 L583.80,519.73 L584.80,520.37 L585.80,521.00 L586.80,521.61 L587.80,522.21 L588.80,522.79 L589.80,523.37 L590.80,523.94 L591.80,524.50 L592.80,525.06 L593.80,525.62 L594.80,526.18 L595.80,526.74 L596.80,527.30 L597.80,527.86 L598.80,528.42 L599.80,528.99 L600.80,529.55 L601.80,530.12 L602.80,530.69 L603.80,531.26 L604.80,531.83 L605.80,532.40 L606.80,532.97 L607.80,533.54 L608.80,534.11 L609.80,534.68 L610.80,535.24 L611.80,535.81 L612.80,536.37 L613.80,536.93 L614.80,537.49 L615.80,538.05 L616.80,538.60 L617.80,539.15 L618.80,539.70 L619.80,540.24 L620.80,540.78 L621.80,541.31 L622.80,541.84 L623.80,542.37 L624.80,542.89 L625.80,543.41 L626.80,543.92 L627.80,544.42 L628.80,544.92 L629.80,545.41 L630.80,545.89 L631.80,546.37 L632.80,546.84 L633.80,547.31 L634.80,547.76 L635.80,548.21 L636.80,548.65 L637.80,549.08 L638.80,549.51 L639.80,549.92 L640.80,550.33 L641.80,550.72 L642.80,551.11 L643.80,551.49 L644.80,551.86 L645.80,552.22 L646.80,552.58 L647.80,552.93 L648.80,553.28 L649.80,553.62 L650.80,553.95 L651.80,554.28 L652.80,554.60 L653.80,554.92 L654.80,555.24 L655.80,555.55 L656.80,555.86 L657.80,556.17 L658.80,556.47 L659.80,556.77 L660.80,557.07 L661.80,557.36 L662.80,557.65 L663.80,557.94 L664.80,558.23 L665.80,558.51 L666.80,558.78 L667.80,559.06 L668.80,559.33 L669.80,559.60 L670.80,559.87 L671.80,560.13 L672.80,560.39 L673.80,560.64 L674.80,560.90 L675.80,561.15 L676.80,561.40 L677.80,561.64 L678.80,561.88 L679.80,562.12 L680.80,562.36 L681.80,562.59 L682.80,562.82 L683.80,563.05 L684.80,563.27 L685.80,563.50 L686.80,563.72 L687.80,563.93 L688.80,564.15 L689.80,564.36 L690.80,564.57 L691.80,564.77 L692.80,564.98 L693.80,565.18 L694.80,565.38 L695.80,565.57 L696.80,565.77 L697.80,565.96 L698.80,566.15 L699.80,566.33 L700.80,566.52 L701.80,566.70 L702.80,566.88 L703.80,567.06 L704.80,567.23 L705.80,567.40 L706.80,567.57 L707.80,567.74 L708.80,567.90 L709.80,568.07 L710.80,568.23 L711.80,568.39 L712.80,568.54 L713.80,568.70 L714.80,568.85 L715.80,569.00 L716.80,569.15 L717.80,569.29 L718.80,569.44 L719.80,569.58 L720.80,569.72 L721.80,569.86 L722.80,569.99 L723.80,570.13 L724.80,570.26 L725.80,570.39 L726.80,570.52 L727.80,570.64 L728.80,570.77 L729.80,570.89 L730.80,571.01 L731.80,571.13 L732.80,571.25 L733.80,571.36 L734.80,571.48 L735.80,571.59 L736.80,571.70 L737.80,571.81 L738.80,571.92 L739.80,572.02 L740.80,572.13 L741.80,572.23 L742.80,572.33 L743.80,572.43 L744.80,572.53 L745.80,572.62 L746.80,572.72 L747.80,572.81 L748.80,572.90 L749.80,572.99 L750.80,573.08 L751.80,573.17 L752.80,573.26 L753.80,573.34 L754.80,573.43 L755.80,573.51 L756.80,573.59 L757.80,573.67 L758.80,573.75 L759.80,573.83 L760.80,573.90 L761.80,573.98 L762.80,574.05 L763.80,574.13 L764.80,574.20 L765.80,574.27 L766.80,574.34 L767.80,574.41 L768.80,574.48 L769.80,574.54 L770.80,574.61 L771.80,574.67 L772.80,574.74 L773.80,574.80 L774.80,574.86 L775.80,574.92 L776.80,574.98 L777.80,575.04 L778.80,575.10 L779.80,575.16 L780.80,575.22 L781.80,575.27 L782.80,575.33 L783.80,575.39 L784.80,575.44 L785.80,575.49 L786.80,575.55 L787.80,575.60 L788.80,575.65 L789.80,575.70 L790.80,575.75 L791.80,575.80 L792.80,575.85 L793.80,575.90 L794.80,575.95 L795.80,576.00 L796.80,576.05 L797.80,576.09 L798.80,576.14 L799.80,576.19 L800.80,576.23 L801.80,576.28 L802.80,576.33 L803.80,576.37 L804.80,576.42 L805.80,576.46 L806.80,576.51 L807.80,576.55 L808.80,576.60 L808.90,576.60" fill="none" stroke="#008080" stroke-width="1.0" stroke-linejoin="round"/>
<path d="M286.00,384.10 L287.00,384.82 L288.00,385.45 L289.00,386.02 L290.00,386.53 L291.00,387.03 L292.00,387.52 L293.00,388.02 L294.00,388.57 L295.00,389.18 L296.00,389.88 L297.00,390.68 L298.00,391.61 L299.00,392.68 L300.00,393.93 L300.20,394.20 L300.60,416.00 L301.60,416.46 L302.60,416.95 L303.60,417.47 L304.60,418.03 L305.60,418.63 L306.60,419.28 L307.60,419.96 L308.60,420.68 L309.60,421.45 L310.60,422.27 L311.60,423.13 L312.60,424.03 L313.60,424.97 L314.60,425.94 L315.60,426.94 L316.60,427.98 L317.60,429.04 L318.60,430.12 L319.60,431.22 L320.60,432.34 L321.60,433.47 L322.60,434.61 L323.60,435.76 L324.60,436.92 L325.60,438.10 L326.60,439.28 L327.60,440.49 L328.60,441.71 L329.60,442.95 L330.60,444.21 L331.60,445.50 L332.60,446.81 L333.60,448.14 L334.60,449.50 L335.60,450.88 L336.60,452.30 L337.60,453.74 L338.60,455.20 L339.60,456.70 L340.60,458.22 L341.60,459.77 L342.60,461.34 L343.60,462.94 L344.60,464.57 L345.60,466.23 L346.60,467.91 L347.60,469.62 L348.60,471.36 L349.60,473.13 L350.60,474.92 L351.60,476.74 L352.60,478.58 L353.60,480.45 L354.60,482.35 L355.60,484.28 L356.60,486.23 L357.60,488.21 L358.60,490.22 L359.60,492.25 L360.60,494.31 L361.60,496.40 L362.60,498.52 L363.60,500.66 L364.60,502.83 L365.50,504.80 L366.60,475.80 L370.50,485.00 L372.50,491.50 L373.50,492.56 L374.50,493.64 L375.50,494.75 L376.50,495.89 L377.50,497.04 L378.50,498.21 L379.50,499.40 L380.50,500.60 L381.50,501.81 L382.50,503.03 L383.50,504.26 L384.50,505.49 L385.50,506.72 L386.50,507.95 L387.50,509.17 L388.50,510.39 L389.50,511.60 L390.50,512.80 L391.50,513.98 L392.50,515.15 L393.50,516.30 L394.50,517.42 L395.50,518.53 L396.50,519.60 L397.50,520.65 L398.50,521.67 L399.50,522.65 L400.50,523.60 L401.50,524.50 L402.50,525.37 L403.50,526.19 L404.50,526.97 L405.50,527.70 L407.50,531.60 L408.50,532.27 L409.50,532.94 L410.50,533.59 L411.50,534.24 L412.50,534.88 L413.50,535.52 L414.50,536.15 L415.50,536.77 L416.50,537.38 L417.50,537.99 L418.50,538.58 L419.50,539.18 L420.50,539.76 L421.50,540.34 L422.50,540.91 L423.50,541.48 L424.50,542.04 L425.50,542.59 L426.50,543.13 L427.50,543.67 L428.50,544.20 L429.50,544.73 L430.50,545.25 L431.50,545.76 L432.50,546.27 L433.50,546.77 L434.50,547.26 L435.50,547.75 L436.50,548.23 L437.50,548.71 L438.50,549.18 L439.50,549.64 L440.50,550.10 L441.50,550.55 L442.50,551.00 L443.50,551.44 L444.50,551.87 L445.50,552.30 L446.50,552.72 L447.50,553.14 L448.50,553.55 L449.50,553.96 L450.50,554.36 L451.50,554.76 L452.50,555.15 L453.50,555.53 L454.50,555.91 L455.50,556.29 L456.50,556.65 L457.50,557.02 L458.50,557.38 L459.50,557.73 L460.50,558.08 L461.50,558.42 L462.50,558.76 L463.50,559.10 L464.50,559.42 L465.50,559.75 L466.50,560.07 L467.50,560.38 L468.50,560.69 L469.50,561.00 L470.50,561.30 L471.50,561.60 L472.50,561.89 L473.50,562.18 L474.50,562.46 L475.50,562.74 L476.50,563.01 L477.50,563.28 L478.50,563.55 L479.50,563.81 L480.50,564.07 L481.50,564.33 L482.50,564.58 L483.50,564.82 L484.50,565.06 L485.50,565.30 L486.50,565.54 L487.50,565.77 L488.50,566.00 L489.50,566.22 L490.50,566.44 L491.50,566.66 L492.50,566.87 L493.50,567.08 L494.50,567.28 L495.50,567.49 L496.50,567.68 L497.50,567.88 L498.50,568.07 L499.50,568.26 L500.50,568.45 L501.50,568.63 L502.50,568.81 L503.50,568.99 L504.50,569.16 L505.50,569.33 L506.50,569.50 L507.50,569.67 L508.50,569.83 L509.50,569.99 L510.50,570.15 L511.50,570.30 L512.50,570.45 L513.50,570.60 L514.50,570.75 L515.50,570.89 L516.50,571.04 L517.50,571.18 L518.50,571.31 L519.50,571.45 L520.50,571.58 L521.50,571.71 L522.50,571.84 L523.50,571.97 L524.50,572.09 L525.50,572.21 L526.50,572.33 L527.50,572.45 L528.50,572.57 L529.50,572.68 L530.50,572.80 L531.50,572.91 L532.50,573.02 L533.50,573.13 L534.50,573.23 L535.50,573.34 L536.50,573.44 L537.50,573.54 L538.50,573.64 L539.50,573.74 L540.50,573.84 L541.50,573.94 L542.50,574.03 L543.50,574.13 L544.50,574.22 L545.50,574.31 L546.50,574.40 L547.50,574.49 L548.50,574.58 L549.50,574.67 L550.50,574.76 L551.50,574.84 L552.50,574.93 L553.50,575.01 L554.50,575.10 L555.50,575.18 L556.50,575.27 L557.50,575.35 L558.50,575.43 L559.50,575.51 L560.50,575.59 L561.50,575.67 L562.50,575.75 L563.50,575.82 L564.50,575.90 L565.50,575.98 L566.50,576.05 L567.50,576.13 L568.50,576.20 L569.50,576.27 L570.50,576.34 L571.50,576.42 L572.50,576.49 L573.50,576.56 L574.50,576.63 L575.50,576.69 L576.50,576.76 L577.50,576.83 L578.50,576.90 L579.50,576.96 L580.50,577.03 L581.50,577.09 L582.50,577.16 L583.50,577.22 L584.50,577.28 L585.50,577.34 L586.50,577.40 L587.50,577.46 L588.50,577.52 L589.50,577.58 L590.50,577.64 L591.50,577.70 L592.50,577.76 L593.50,577.81 L594.50,577.87 L595.50,577.92 L596.50,577.98 L597.50,578.03 L598.50,578.09 L599.50,578.14 L600.50,578.19 L601.50,578.24 L602.50,578.29 L603.50,578.34 L604.50,578.39 L605.50,578.44 L606.50,578.49 L607.50,578.54 L608.50,578.59 L609.50,578.63 L610.50,578.68 L611.50,578.72 L612.50,578.77 L613.50,578.81 L614.50,578.86 L615.50,578.90 L616.50,578.94 L617.50,578.99 L618.50,579.03 L619.50,579.07 L620.50,579.11 L621.50,579.15 L622.50,579.19 L623.50,579.23 L624.50,579.27 L625.50,579.30 L626.50,579.34 L627.50,579.38 L628.50,579.42 L629.50,579.45 L630.50,579.49 L631.50,579.52 L632.50,579.56 L633.50,579.59 L634.50,579.62 L635.50,579.66 L636.50,579.69 L637.50,579.72 L638.50,579.75 L639.50,579.78 L640.50,579.81 L641.50,579.84 L642.50,579.87 L643.50,579.90 L644.50,579.93 L645.50,579.96 L646.50,579.99 L647.50,580.01 L648.50,580.04 L649.50,580.07 L650.50,580.09 L651.50,580.12 L652.50,580.14 L653.50,580.17 L654.50,580.19 L655.50,580.22 L656.50,580.24 L657.50,580.26 L658.50,580.28 L659.50,580.31 L660.50,580.33 L661.50,580.35 L662.50,580.37 L663.50,580.39 L664.50,580.41 L665.50,580.43 L666.50,580.45 L667.50,580.47 L668.50,580.49 L669.50,580.51 L670.50,580.53 L671.50,580.54 L672.50,580.56 L673.50,580.58 L674.50,580.59 L675.50,580.61 L676.50,580.63 L677.50,580.64 L678.50,580.66 L679.50,580.67 L680.50,580.69 L681.50,580.70 L682.50,580.72 L683.50,580.73 L684.50,580.74 L685.50,580.76 L686.50,580.77 L687.50,580.78 L688.50,580.79 L689.50,580.81 L690.50,580.82 L691.50,580.83 L692.50,580.84 L693.50,580.85 L694.50,580.86 L695.50,580.87 L696.50,580.88 L697.50,580.89 L698.50,580.90 L699.50,580.91 L700.50,580.92 L701.50,580.93 L702.50,580.94 L703.50,580.94 L704.50,580.95 L705.50,580.96 L706.50,580.97 L707.50,580.97 L708.50,580.98 L709.50,580.99 L710.50,580.99 L711.50,581.00 L712.50,581.01 L713.50,581.01 L714.50,581.02 L715.50,581.02 L716.50,581.03 L717.50,581.04 L718.50,581.04 L719.50,581.05 L720.50,581.05 L721.50,581.05 L722.50,581.06 L723.50,581.06 L724.50,581.07 L725.50,581.07 L726.50,581.07 L727.50,581.08 L728.50,581.08 L729.50,581.08 L730.50,581.09 L731.50,581.09 L732.50,581.09 L733.50,581.10 L734.50,581.10 L735.50,581.10 L736.50,581.10 L737.50,581.11 L738.50,581.11 L739.50,581.11 L740.50,581.11 L741.50,581.11 L742.50,581.12 L743.50,581.12 L744.50,581.12 L745.50,581.12 L746.50,581.12 L747.50,581.12 L748.50,581.12 L749.50,581.13 L750.50,581.13 L751.50,581.13 L752.50,581.13 L753.50,581.13 L754.50,581.13 L755.50,581.13 L756.50,581.13 L757.50,581.13 L758.50,581.13 L759.50,581.13 L760.50,581.13 L761.50,581.13 L762.50,581.14 L763.50,581.14 L764.50,581.14 L765.50,581.14 L766.50,581.14 L767.50,581.14 L768.50,581.14 L769.50,581.14 L770.50,581.14 L771.50,581.14 L772.50,581.14 L773.50,581.14 L774.50,581.14 L775.50,581.14 L776.50,581.14 L777.50,581.14 L778.50,581.14 L779.50,581.14 L780.50,581.15 L781.50,581.15 L782.50,581.15 L783.50,581.15 L784.50,581.15 L785.50,581.15 L786.50,581.15 L787.50,581.15 L788.50,581.15 L789.50,581.15 L790.50,581.16 L791.50,581.16 L792.50,581.16 L793.50,581.16 L794.50,581.16 L795.50,581.16 L796.50,581.17 L797.50,581.17 L798.50,581.17 L799.50,581.17 L800.50,581.18 L801.50,581.18 L802.50,581.18 L803.50,581.18 L804.50,581.19 L805.50,581.19 L806.50,581.19 L807.50,581.20 L808.50,581.20 L808.90,581.20" fill="none" stroke="#FF00FF" stroke-width="1.0" stroke-linejoin="round"/>
<path d="M286.00,384.10 L287.00,384.65 L288.00,385.09 L289.00,385.42 L290.00,385.67 L291.00,385.82 L292.00,385.90 L293.00,385.90 L294.00,385.83 L295.00,385.69 L296.00,385.51 L297.00,385.27 L298.00,384.99 L299.00,384.68 L300.00,384.34 L300.10,384.30 L300.80,407.30 L301.80,406.18 L302.80,405.16 L303.80,404.22 L304.80,403.37 L305.80,402.61 L306.80,401.93 L307.80,401.33 L308.80,400.81 L309.80,400.36 L310.80,399.99 L311.80,399.69 L312.80,399.46 L313.80,399.29 L314.80,399.20 L315.80,399.16 L316.80,399.19 L317.80,399.27 L318.80,399.41 L319.80,399.61 L320.80,399.86 L321.80,400.16 L322.80,400.50 L323.80,400.90 L324.80,401.33 L325.80,401.81 L326.80,402.33 L327.80,402.88 L328.80,403.47 L329.80,404.09 L330.80,404.75 L331.80,405.43 L332.80,406.14 L333.80,406.87 L334.80,407.62 L335.80,408.40 L336.80,409.19 L337.80,409.99 L338.80,410.81 L339.80,411.65 L340.80,412.49 L341.80,413.34 L342.80,414.21 L343.80,415.10 L344.80,416.02 L345.80,416.97 L346.80,417.95 L347.80,418.98 L348.80,420.04 L349.80,421.15 L350.80,422.32 L351.80,423.54 L352.80,424.82 L353.80,426.17 L354.80,427.58 L355.80,429.07 L356.80,430.64 L357.80,432.29 L358.80,434.03 L359.80,435.86 L360.80,437.79 L361.80,439.81 L362.80,441.94 L363.80,444.18 L364.80,446.53 L365.40,448.00 L366.60,314.20 L367.50,314.50 L370.90,318.30 L371.60,359.60 L372.60,358.30 L373.60,357.02 L374.60,355.77 L375.60,354.56 L376.60,353.39 L377.60,352.27 L378.60,351.20 L379.60,350.21 L380.60,349.28 L381.60,348.44 L382.60,347.69 L383.60,347.03 L384.60,346.48 L385.60,346.04 L386.60,345.73 L387.60,345.53 L388.60,345.48 L389.60,345.56 L390.60,345.79 L391.60,346.15 L392.60,346.65 L393.60,347.29 L394.60,348.05 L395.60,348.95 L396.60,349.98 L397.60,351.13 L398.60,352.41 L399.60,353.82 L400.60,355.34 L401.60,356.99 L402.60,358.75 L403.60,360.63 L404.60,362.62 L405.40,364.30 L407.20,371.50 L408.20,372.81 L409.20,374.13 L410.20,375.47 L411.20,376.83 L412.20,378.21 L413.20,379.60 L414.20,381.01 L415.20,382.43 L416.20,383.87 L417.20,385.32 L418.20,386.79 L419.20,388.27 L420.20,389.76 L421.20,391.26 L422.20,392.77 L423.20,394.30 L424.20,395.83 L425.20,397.37 L426.20,398.93 L427.20,400.49 L428.20,402.05 L429.20,403.63 L430.20,405.21 L431.20,406.80 L432.20,408.39 L433.20,409.99 L434.20,411.59 L435.20,413.20 L436.20,414.81 L437.20,416.42 L438.20,418.04 L439.20,419.66 L440.20,421.28 L441.20,422.91 L442.20,424.53 L443.20,426.16 L444.20,427.79 L445.20,429.41 L446.20,431.04 L447.20,432.67 L448.20,434.29 L449.20,435.92 L450.20,437.54 L451.20,439.16 L452.20,440.78 L453.20,442.39 L454.20,444.01 L455.20,445.62 L456.20,447.22 L457.20,448.82 L458.20,450.42 L459.20,452.01 L460.20,453.59 L461.20,455.17 L462.20,456.75 L463.20,458.31 L464.20,459.87 L465.20,461.42 L466.20,462.97 L467.20,464.50 L468.20,466.03 L469.20,467.55 L470.20,469.06 L471.20,470.56 L472.20,472.05 L473.20,473.53 L474.20,475.00 L475.20,476.45 L476.20,477.90 L477.20,479.33 L478.20,480.75 L479.20,482.16 L480.20,483.55 L481.20,484.93 L482.20,486.30 L483.20,487.65 L484.20,488.99 L485.20,490.32 L486.20,491.63 L487.20,492.93 L488.20,494.21 L489.20,495.48 L490.20,496.74 L491.20,497.98 L492.20,499.21 L493.20,500.42 L494.20,501.62 L495.20,502.80 L496.20,503.97 L497.20,505.13 L498.20,506.27 L499.20,507.40 L500.20,508.51 L501.20,509.61 L502.20,510.69 L503.20,511.76 L504.20,512.82 L505.20,513.86 L506.20,514.89 L507.20,515.90 L508.20,516.89 L509.20,517.87 L510.20,518.84 L511.20,519.79 L512.20,520.73 L513.20,521.65 L514.20,522.56 L515.20,523.45 L516.20,524.33 L517.20,525.19 L518.20,526.04 L519.20,526.88 L520.20,527.69 L521.20,528.50 L522.20,529.29 L523.20,530.07 L524.20,530.83 L525.20,531.58 L526.20,532.32 L527.20,533.04 L528.20,533.75 L529.20,534.45 L530.20,535.14 L531.20,535.81 L532.20,536.48 L533.20,537.13 L534.20,537.77 L535.20,538.40 L536.20,539.02 L537.20,539.63 L538.20,540.23 L539.20,540.82 L540.20,541.39 L541.20,541.96 L542.20,542.52 L543.20,543.07 L544.20,543.61 L545.20,544.14 L546.20,544.67 L547.20,545.18 L548.20,545.68 L549.20,546.18 L550.20,546.67 L551.20,547.15 L552.20,547.63 L553.20,548.09 L554.20,548.55 L555.20,549.00 L556.20,549.45 L557.20,549.88 L558.20,550.32 L559.20,550.74 L560.20,551.16 L561.20,551.57 L562.20,551.98 L563.20,552.38 L564.20,552.78 L565.20,553.17 L566.20,553.55 L567.20,553.94 L568.20,554.31 L569.20,554.68 L570.20,555.05 L571.20,555.41 L572.20,555.77 L573.20,556.13 L574.20,556.48 L575.20,556.82 L576.20,557.16 L577.20,557.50 L578.20,557.83 L579.20,558.16 L580.20,558.48 L581.20,558.80 L582.20,559.12 L583.20,559.43 L584.20,559.74 L585.20,560.04 L586.20,560.34 L587.20,560.63 L588.20,560.93 L589.20,561.21 L590.20,561.50 L591.20,561.78 L592.20,562.05 L593.20,562.33 L594.20,562.60 L595.20,562.86 L596.20,563.12 L597.20,563.38 L598.20,563.64 L599.20,563.89 L600.20,564.14 L601.20,564.38 L602.20,564.62 L603.20,564.86 L604.20,565.09 L605.20,565.33 L606.20,565.55 L607.20,565.78 L608.20,566.00 L609.20,566.22 L610.20,566.43 L611.20,566.65 L612.20,566.86 L613.20,567.06 L614.20,567.27 L615.20,567.47 L616.20,567.66 L617.20,567.86 L618.20,568.05 L619.20,568.24 L620.20,568.43 L621.20,568.61 L622.20,568.79 L623.20,568.97 L624.20,569.15 L625.20,569.32 L626.20,569.49 L627.20,569.66 L628.20,569.83 L629.20,569.99 L630.20,570.16 L631.20,570.31 L632.20,570.47 L633.20,570.63 L634.20,570.78 L635.20,570.93 L636.20,571.08 L637.20,571.23 L638.20,571.37 L639.20,571.51 L640.20,571.65 L641.20,571.79 L642.20,571.93 L643.20,572.06 L644.20,572.20 L645.20,572.33 L646.20,572.46 L647.20,572.58 L648.20,572.71 L649.20,572.84 L650.20,572.96 L651.20,573.08 L652.20,573.20 L653.20,573.32 L654.20,573.43 L655.20,573.55 L656.20,573.66 L657.20,573.78 L658.20,573.89 L659.20,574.00 L660.20,574.11 L661.20,574.21 L662.20,574.32 L663.20,574.43 L664.20,574.53 L665.20,574.63 L666.20,574.74 L667.20,574.84 L668.20,574.94 L669.20,575.03 L670.20,575.13 L671.20,575.23 L672.20,575.32 L673.20,575.42 L674.20,575.51 L675.20,575.60 L676.20,575.69 L677.20,575.78 L678.20,575.87 L679.20,575.96 L680.20,576.04 L681.20,576.13 L682.20,576.21 L683.20,576.29 L684.20,576.38 L685.20,576.46 L686.20,576.54 L687.20,576.62 L688.20,576.69 L689.20,576.77 L690.20,576.85 L691.20,576.92 L692.20,576.99 L693.20,577.07 L694.20,577.14 L695.20,577.21 L696.20,577.28 L697.20,577.35 L698.20,577.41 L699.20,577.48 L700.20,577.54 L701.20,577.61 L702.20,577.67 L703.20,577.74 L704.20,577.80 L705.20,577.86 L706.20,577.92 L707.20,577.98 L708.20,578.03 L709.20,578.09 L710.20,578.15 L711.20,578.20 L712.20,578.26 L713.20,578.31 L714.20,578.36 L715.20,578.41 L716.20,578.46 L717.20,578.51 L718.20,578.56 L719.20,578.61 L720.20,578.66 L721.20,578.70 L722.20,578.75 L723.20,578.79 L724.20,578.83 L725.20,578.88 L726.20,578.92 L727.20,578.96 L728.20,579.00 L729.20,579.04 L730.20,579.08 L731.20,579.12 L732.20,579.15 L733.20,579.19 L734.20,579.22 L735.20,579.26 L736.20,579.29 L737.20,579.33 L738.20,579.36 L739.20,579.39 L740.20,579.42 L741.20,579.45 L742.20,579.48 L743.20,579.51 L744.20,579.53 L745.20,579.56 L746.20,579.59 L747.20,579.61 L748.20,579.64 L749.20,579.66 L750.20,579.69 L751.20,579.71 L752.20,579.73 L753.20,579.75 L754.20,579.77 L755.20,579.79 L756.20,579.81 L757.20,579.83 L758.20,579.85 L759.20,579.86 L760.20,579.88 L761.20,579.90 L762.20,579.91 L763.20,579.93 L764.20,579.94 L765.20,579.95 L766.20,579.97 L767.20,579.98 L768.20,579.99 L769.20,580.00 L770.20,580.01 L771.20,580.02 L772.20,580.03 L773.20,580.04 L774.20,580.05 L775.20,580.05 L776.20,580.06 L777.20,580.07 L778.20,580.07 L779.20,580.08 L780.20,580.08 L781.20,580.08 L782.20,580.09 L783.20,580.09 L784.20,580.09 L785.20,580.09 L786.20,580.10 L787.20,580.10 L788.20,580.10 L789.20,580.10 L790.20,580.10 L791.20,580.10 L792.20,580.09 L793.20,580.09 L794.20,580.09 L795.20,580.09 L796.20,580.08 L797.20,580.08 L798.20,580.07 L799.20,580.07 L800.20,580.06 L801.20,580.06 L802.20,580.05 L803.20,580.05 L804.20,580.04 L805.20,580.03 L806.20,580.02 L807.20,580.01 L808.20,580.01 L808.90,580.00" fill="none" stroke="#808000" stroke-width="1.0" stroke-linejoin="round"/>
<path d="M286.00,384.10 L287.00,384.65 L288.00,385.09 L289.00,385.42 L290.00,385.67 L291.00,385.82 L292.00,385.90 L293.00,385.90 L294.00,385.83 L295.00,385.69 L296.00,385.51 L297.00,385.27 L298.00,384.99 L299.00,384.68 L300.00,384.34 L300.10,384.30 L300.80,407.30 L301.80,406.20 L302.80,405.18 L303.80,404.25 L304.80,403.40 L305.80,402.62 L306.80,401.93 L307.80,401.31 L308.80,400.77 L309.80,400.31 L310.80,399.92 L311.80,399.61 L312.80,399.37 L313.80,399.20 L314.80,399.10 L315.80,399.06 L316.80,399.10 L317.80,399.20 L318.80,399.37 L319.80,399.60 L320.80,399.89 L321.80,400.23 L322.80,400.64 L323.80,401.09 L324.80,401.60 L325.80,402.16 L326.80,402.77 L327.80,403.42 L328.80,404.12 L329.80,404.86 L330.80,405.64 L331.80,406.46 L332.80,407.31 L333.80,408.20 L334.80,409.12 L335.80,410.07 L336.80,411.04 L337.80,412.05 L338.80,413.07 L339.80,414.12 L340.80,415.19 L341.80,416.28 L342.80,417.41 L343.80,418.56 L344.80,419.76 L345.80,421.00 L346.80,422.29 L347.80,423.63 L348.80,425.03 L349.80,426.50 L350.80,428.04 L351.80,429.65 L352.80,431.33 L353.80,433.11 L354.80,434.97 L355.80,436.93 L356.80,438.98 L357.80,441.14 L358.80,443.41 L359.80,445.79 L360.80,448.29 L361.80,450.92 L362.80,453.68 L363.80,456.56 L364.80,459.59 L365.50,461.80 L366.60,374.30 L367.60,376.55 L368.60,378.65 L369.60,381.00 L370.60,384.00 L371.50,387.60 L371.70,409.00 L372.70,410.48 L373.70,411.98 L374.70,413.48 L375.70,414.99 L376.70,416.51 L377.70,418.04 L378.70,419.58 L379.70,421.12 L380.70,422.68 L381.70,424.25 L382.70,425.82 L383.70,427.41 L384.70,429.01 L385.70,430.62 L386.70,432.23 L387.70,433.86 L388.70,435.50 L389.70,437.15 L390.70,438.81 L391.70,440.49 L392.70,442.17 L393.70,443.87 L394.70,445.58 L395.70,447.30 L396.70,449.03 L397.70,450.77 L398.70,452.53 L399.70,454.30 L400.70,456.08 L401.70,457.87 L402.70,459.68 L403.70,461.50 L404.70,463.34 L405.70,465.18 L406.30,466.30 L407.50,471.40 L408.50,472.78 L409.50,474.15 L410.50,475.51 L411.50,476.84 L412.50,478.16 L413.50,479.47 L414.50,480.76 L415.50,482.04 L416.50,483.30 L417.50,484.55 L418.50,485.78 L419.50,487.00 L420.50,488.20 L421.50,489.39 L422.50,490.57 L423.50,491.73 L424.50,492.88 L425.50,494.01 L426.50,495.13 L427.50,496.24 L428.50,497.33 L429.50,498.41 L430.50,499.48 L431.50,500.53 L432.50,501.57 L433.50,502.60 L434.50,503.62 L435.50,504.62 L436.50,505.61 L437.50,506.59 L438.50,507.55 L439.50,508.50 L440.50,509.44 L441.50,510.37 L442.50,511.29 L443.50,512.20 L444.50,513.09 L445.50,513.97 L446.50,514.85 L447.50,515.71 L448.50,516.55 L449.50,517.39 L450.50,518.22 L451.50,519.04 L452.50,519.84 L453.50,520.64 L454.50,521.42 L455.50,522.20 L456.50,522.96 L457.50,523.71 L458.50,524.46 L459.50,525.19 L460.50,525.92 L461.50,526.63 L462.50,527.34 L463.50,528.04 L464.50,528.72 L465.50,529.40 L466.50,530.07 L467.50,530.73 L468.50,531.38 L469.50,532.02 L470.50,532.66 L471.50,533.28 L472.50,533.90 L473.50,534.51 L474.50,535.11 L475.50,535.70 L476.50,536.29 L477.50,536.86 L478.50,537.43 L479.50,538.00 L480.50,538.55 L481.50,539.10 L482.50,539.64 L483.50,540.17 L484.50,540.70 L485.50,541.22 L486.50,541.73 L487.50,542.23 L488.50,542.73 L489.50,543.22 L490.50,543.71 L491.50,544.19 L492.50,544.66 L493.50,545.13 L494.50,545.58 L495.50,546.04 L496.50,546.48 L497.50,546.92 L498.50,547.36 L499.50,547.79 L500.50,548.21 L501.50,548.63 L502.50,549.04 L503.50,549.44 L504.50,549.84 L505.50,550.23 L506.50,550.62 L507.50,551.00 L508.50,551.38 L509.50,551.75 L510.50,552.12 L511.50,552.48 L512.50,552.84 L513.50,553.19 L514.50,553.53 L515.50,553.87 L516.50,554.21 L517.50,554.54 L518.50,554.87 L519.50,555.19 L520.50,555.51 L521.50,555.82 L522.50,556.13 L523.50,556.43 L524.50,556.73 L525.50,557.02 L526.50,557.31 L527.50,557.60 L528.50,557.88 L529.50,558.16 L530.50,558.43 L531.50,558.70 L532.50,558.97 L533.50,559.23 L534.50,559.49 L535.50,559.75 L536.50,560.00 L537.50,560.25 L538.50,560.49 L539.50,560.73 L540.50,560.97 L541.50,561.21 L542.50,561.44 L543.50,561.67 L544.50,561.89 L545.50,562.12 L546.50,562.34 L547.50,562.55 L548.50,562.77 L549.50,562.98 L550.50,563.19 L551.50,563.39 L552.50,563.60 L553.50,563.80 L554.50,564.00 L555.50,564.19 L556.50,564.39 L557.50,564.58 L558.50,564.77 L559.50,564.96 L560.50,565.14 L561.50,565.33 L562.50,565.51 L563.50,565.69 L564.50,565.87 L565.50,566.05 L566.50,566.22 L567.50,566.40 L568.50,566.57 L569.50,566.74 L570.50,566.91 L571.50,567.08 L572.50,567.25 L573.50,567.41 L574.50,567.58 L575.50,567.74 L576.50,567.90 L577.50,568.06 L578.50,568.22 L579.50,568.38 L580.50,568.53 L581.50,568.69 L582.50,568.84 L583.50,568.99 L584.50,569.14 L585.50,569.29 L586.50,569.44 L587.50,569.59 L588.50,569.73 L589.50,569.88 L590.50,570.02 L591.50,570.16 L592.50,570.30 L593.50,570.44 L594.50,570.58 L595.50,570.71 L596.50,570.85 L597.50,570.98 L598.50,571.11 L599.50,571.24 L600.50,571.37 L601.50,571.50 L602.50,571.63 L603.50,571.76 L604.50,571.88 L605.50,572.00 L606.50,572.13 L607.50,572.25 L608.50,572.37 L609.50,572.49 L610.50,572.61 L611.50,572.72 L612.50,572.84 L613.50,572.95 L614.50,573.06 L615.50,573.18 L616.50,573.29 L617.50,573.40 L618.50,573.51 L619.50,573.61 L620.50,573.72 L621.50,573.83 L622.50,573.93 L623.50,574.03 L624.50,574.13 L625.50,574.24 L626.50,574.33 L627.50,574.43 L628.50,574.53 L629.50,574.63 L630.50,574.72 L631.50,574.82 L632.50,574.91 L633.50,575.00 L634.50,575.10 L635.50,575.19 L636.50,575.28 L637.50,575.36 L638.50,575.45 L639.50,575.54 L640.50,575.62 L641.50,575.71 L642.50,575.79 L643.50,575.87 L644.50,575.95 L645.50,576.04 L646.50,576.12 L647.50,576.19 L648.50,576.27 L649.50,576.35 L650.50,576.42 L651.50,576.50 L652.50,576.57 L653.50,576.65 L654.50,576.72 L655.50,576.79 L656.50,576.86 L657.50,576.93 L658.50,577.00 L659.50,577.07 L660.50,577.13 L661.50,577.20 L662.50,577.27 L663.50,577.33 L664.50,577.39 L665.50,577.46 L666.50,577.52 L667.50,577.58 L668.50,577.64 L669.50,577.70 L670.50,577.76 L671.50,577.82 L672.50,577.88 L673.50,577.93 L674.50,577.99 L675.50,578.04 L676.50,578.10 L677.50,578.15 L678.50,578.20 L679.50,578.26 L680.50,578.31 L681.50,578.36 L682.50,578.41 L683.50,578.46 L684.50,578.51 L685.50,578.55 L686.50,578.60 L687.50,578.65 L688.50,578.69 L689.50,578.74 L690.50,578.78 L691.50,578.83 L692.50,578.87 L693.50,578.91 L694.50,578.95 L695.50,579.00 L696.50,579.04 L697.50,579.08 L698.50,579.12 L699.50,579.15 L700.50,579.19 L701.50,579.23 L702.50,579.27 L703.50,579.30 L704.50,579.34 L705.50,579.37 L706.50,579.41 L707.50,579.44 L708.50,579.48 L709.50,579.51 L710.50,579.54 L711.50,579.57 L712.50,579.61 L713.50,579.64 L714.50,579.67 L715.50,579.70 L716.50,579.73 L717.50,579.76 L718.50,579.78 L719.50,579.81 L720.50,579.84 L721.50,579.87 L722.50,579.89 L723.50,579.92 L724.50,579.95 L725.50,579.97 L726.50,580.00 L727.50,580.02 L728.50,580.05 L729.50,580.07 L730.50,580.09 L731.50,580.12 L732.50,580.14 L733.50,580.16 L734.50,580.18 L735.50,580.20 L736.50,580.22 L737.50,580.24 L738.50,580.26 L739.50,580.28 L740.50,580.30 L741.50,580.32 L742.50,580.34 L743.50,580.36 L744.50,580.38 L745.50,580.40 L746.50,580.42 L747.50,580.43 L748.50,580.45 L749.50,580.47 L750.50,580.48 L751.50,580.50 L752.50,580.52 L753.50,580.53 L754.50,580.55 L755.50,580.56 L756.50,580.58 L757.50,580.59 L758.50,580.61 L759.50,580.62 L760.50,580.64 L761.50,580.65 L762.50,580.66 L763.50,580.68 L764.50,580.69 L765.50,580.70 L766.50,580.72 L767.50,580.73 L768.50,580.74 L769.50,580.75 L770.50,580.77 L771.50,580.78 L772.50,580.79 L773.50,580.80 L774.50,580.82 L775.50,580.83 L776.50,580.84 L777.50,580.85 L778.50,580.86 L779.50,580.87 L780.50,580.88 L781.50,580.90 L782.50,580.91 L783.50,580.92 L784.50,580.93 L785.50,580.94 L786.50,580.95 L787.50,580.96 L788.50,580.97 L789.50,580.98 L790.50,580.99 L791.50,581.01 L792.50,581.02 L793.50,581.03 L794.50,581.04 L795.50,581.05 L796.50,581.06 L797.50,581.07 L798.50,581.08 L799.50,581.09 L800.50,581.10 L801.50,581.12 L802.50,581.13 L803.50,581.14 L804.50,581.15 L805.50,581.16 L806.50,581.17 L807.50,581.18 L808.50,581.20 L808.90,581.20" fill="none" stroke="#000080" stroke-width="1.0" stroke-linejoin="round"/>
<line x1="92" y1="581.0" x2="810" y2="581.0" stroke="#000" stroke-width="2"/>
<line x1="102.2" y1="57.5" x2="102.2" y2="591" stroke="#000" stroke-width="2"/>
<line x1="102.20" y1="581.0" x2="102.20" y2="591" stroke="#000" stroke-width="2"/>
<text transform="translate(102.20,616.6) scale(0.92,1)" class="tk" text-anchor="middle">100</text>
<line x1="203.17" y1="581.0" x2="203.17" y2="591" stroke="#000" stroke-width="2"/>
<text transform="translate(203.17,616.6) scale(0.92,1)" class="tk" text-anchor="middle">200</text>
<line x1="304.14" y1="581.0" x2="304.14" y2="591" stroke="#000" stroke-width="2"/>
<text transform="translate(304.14,616.6) scale(0.92,1)" class="tk" text-anchor="middle">300</text>
<line x1="405.11" y1="581.0" x2="405.11" y2="591" stroke="#000" stroke-width="2"/>
<text transform="translate(405.11,616.6) scale(0.92,1)" class="tk" text-anchor="middle">400</text>
<line x1="506.08" y1="581.0" x2="506.08" y2="591" stroke="#000" stroke-width="2"/>
<text transform="translate(506.08,616.6) scale(0.92,1)" class="tk" text-anchor="middle">500</text>
<line x1="607.05" y1="581.0" x2="607.05" y2="591" stroke="#000" stroke-width="2"/>
<text transform="translate(607.05,616.6) scale(0.92,1)" class="tk" text-anchor="middle">600</text>
<line x1="708.02" y1="581.0" x2="708.02" y2="591" stroke="#000" stroke-width="2"/>
<text transform="translate(708.02,616.6) scale(0.92,1)" class="tk" text-anchor="middle">700</text>
<line x1="808.99" y1="581.0" x2="808.99" y2="591" stroke="#000" stroke-width="2"/>
<text transform="translate(808.99,616.6) scale(0.92,1)" class="tk" text-anchor="middle">800</text>
<line x1="152.69" y1="581.0" x2="152.69" y2="586" stroke="#000" stroke-width="2"/>
<line x1="253.65" y1="581.0" x2="253.65" y2="586" stroke="#000" stroke-width="2"/>
<line x1="354.62" y1="581.0" x2="354.62" y2="586" stroke="#000" stroke-width="2"/>
<line x1="455.59" y1="581.0" x2="455.59" y2="586" stroke="#000" stroke-width="2"/>
<line x1="556.57" y1="581.0" x2="556.57" y2="586" stroke="#000" stroke-width="2"/>
<line x1="657.54" y1="581.0" x2="657.54" y2="586" stroke="#000" stroke-width="2"/>
<line x1="758.50" y1="581.0" x2="758.50" y2="586" stroke="#000" stroke-width="2"/>
<line x1="92" y1="581.00" x2="102.2" y2="581.00" stroke="#000" stroke-width="2"/>
<text transform="translate(84.9,588.40) scale(0.92,1)" class="tk" text-anchor="end">0.0</text>
<line x1="92" y1="476.50" x2="102.2" y2="476.50" stroke="#000" stroke-width="2"/>
<text transform="translate(84.9,483.90) scale(0.92,1)" class="tk" text-anchor="end">0.5</text>
<line x1="92" y1="372.00" x2="102.2" y2="372.00" stroke="#000" stroke-width="2"/>
<text transform="translate(84.9,379.40) scale(0.92,1)" class="tk" text-anchor="end">1.0</text>
<line x1="92" y1="267.50" x2="102.2" y2="267.50" stroke="#000" stroke-width="2"/>
<text transform="translate(84.9,274.90) scale(0.92,1)" class="tk" text-anchor="end">1.5</text>
<line x1="92" y1="163.00" x2="102.2" y2="163.00" stroke="#000" stroke-width="2"/>
<text transform="translate(84.9,170.40) scale(0.92,1)" class="tk" text-anchor="end">2.0</text>
<line x1="92" y1="58.50" x2="102.2" y2="58.50" stroke="#000" stroke-width="2"/>
<text transform="translate(84.9,65.90) scale(0.92,1)" class="tk" text-anchor="end">2.5</text>
<line x1="97" y1="528.75" x2="102.2" y2="528.75" stroke="#000" stroke-width="2"/>
<line x1="97" y1="424.25" x2="102.2" y2="424.25" stroke="#000" stroke-width="2"/>
<line x1="97" y1="319.75" x2="102.2" y2="319.75" stroke="#000" stroke-width="2"/>
<line x1="97" y1="215.25" x2="102.2" y2="215.25" stroke="#000" stroke-width="2"/>
<line x1="97" y1="110.75" x2="102.2" y2="110.75" stroke="#000" stroke-width="2"/>
<line x1="601" y1="9.40" x2="662.5" y2="9.40" stroke="#000000" stroke-width="1.1"/>
<text x="669" y="18.60" class="lg">melanoids</text>
<line x1="601" y1="42.60" x2="662.5" y2="42.60" stroke="#FF0000" stroke-width="1.1"/>
<text x="669" y="51.80" class="lg">Luhua sauce</text>
<line x1="601" y1="75.80" x2="662.5" y2="75.80" stroke="#0000FF" stroke-width="1.1"/>
<text x="669" y="85.00" class="lg">Luhua vinegar</text>
<line x1="601" y1="109.00" x2="662.5" y2="109.00" stroke="#008080" stroke-width="1.1"/>
<text x="669" y="118.20" class="lg">Qiaoxifu sauce</text>
<line x1="601" y1="142.20" x2="662.5" y2="142.20" stroke="#FF00FF" stroke-width="1.1"/>
<text x="669" y="151.40" class="lg">Qiaoxifu vinegar</text>
<line x1="601" y1="175.40" x2="662.5" y2="175.40" stroke="#808000" stroke-width="1.1"/>
<text x="669" y="184.60" class="lg">Haitian sauce</text>
<line x1="601" y1="208.60" x2="662.5" y2="208.60" stroke="#000080" stroke-width="1.1"/>
<text x="669" y="217.80" class="lg">Zilin mature vinegar</text>
<text transform="translate(455.6,663.2) scale(1,1.03)" x="0" y="0" class="ti" text-anchor="middle">Wavenumber (nm)</text>
<text transform="translate(20.8,307.3) rotate(-90) scale(0.98,1.03)" x="0" y="0" class="ti" text-anchor="middle">Abs</text>
</svg>
</body></html>
